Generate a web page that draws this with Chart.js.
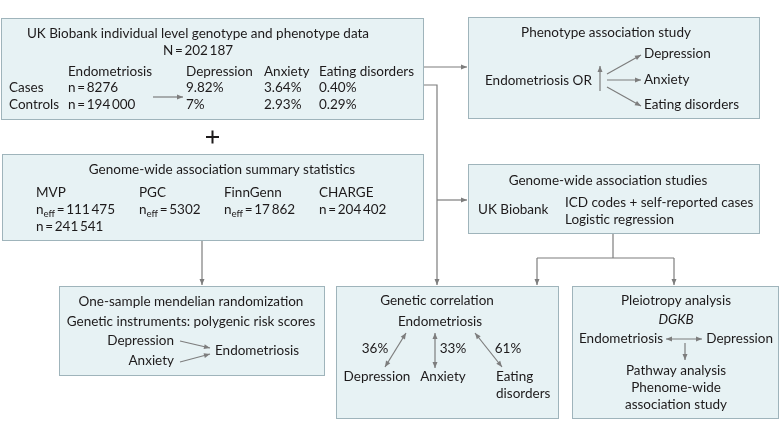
<!DOCTYPE html>
<html>
<head>
<meta charset="utf-8">
<script src="https://cdn.jsdelivr.net/npm/chart.js@4"></script>
<style>
  html, body { margin: 0; padding: 0; background: #fff; }
  #wrap { width: 780px; height: 432px; }
</style>
</head>
<body>
<div id="wrap"><canvas id="flow" width="780" height="432"></canvas></div>
<script>
// Study data
const cohortLabels = ['Cases', 'Controls'];
const endoCounts = [8276, 194000];
const totalN = 202187;
const outcomes = ['Depression', 'Anxiety', 'Eating disorders'];
const casePct = [9.82, 3.64, 0.40];
const controlPct = [7, 2.93, 0.29];
const gwasSources = ['MVP', 'PGC', 'FinnGenn', 'CHARGE'];
const gwasNeff = [111475, 5302, 17862, null];
const gwasN = [241541, null, null, 204402];
const geneticCorr = [36, 33, 61];

const FONT = 'Lato, "Open Sans", sans-serif';
const SIZE = 13.5;
const INK = '#1d1a1b';
const GREY = '#7d7d7d';
const FILL = '#e7f2f4';
const EDGE = '#9fb4bb';

const fmtN = n => n >= 10000 ? n.toLocaleString('en-US').replace(/,/g, '\u2009') : String(n);
const fmtPct = p => (Number.isInteger(p) ? String(p) : p.toFixed(2)) + '%';
const eq = '\u2009=\u2009';

const flowPlugin = {
    id: 'flow',
    afterDraw(chart) {
        const ctx = chart.ctx;
        const X = v => chart.scales.x.getPixelForValue(v);
        const Y = v => chart.scales.y.getPixelForValue(v);

        const box = (x1, y1, x2, y2) => {
            ctx.save();
            ctx.fillStyle = FILL;
            ctx.strokeStyle = EDGE;
            ctx.lineWidth = 1;
            ctx.fillRect(X(x1), Y(y1), X(x2) - X(x1), Y(y2) - Y(y1));
            ctx.strokeRect(X(x1) + 0.5, Y(y1) + 0.5, X(x2) - X(x1), Y(y2) - Y(y1));
            ctx.restore();
        };
        const text = (s, x, y, align = 'left', style = '') => {
            ctx.save();
            ctx.fillStyle = INK;
            ctx.font = style + ' ' + SIZE + 'px ' + FONT;
            ctx.textAlign = align;
            ctx.textBaseline = 'middle';
            ctx.fillText(s, X(x), Y(y));
            ctx.restore();
        };
        // n_eff = value, with subscript
        const neff = (val, x, y) => {
            ctx.save();
            ctx.fillStyle = INK;
            ctx.textBaseline = 'middle';
            ctx.font = SIZE + 'px ' + FONT;
            ctx.fillText('n', X(x), Y(y));
            let px = X(x) + ctx.measureText('n').width;
            ctx.font = (SIZE * 0.72) + 'px ' + FONT;
            ctx.fillText('eff', px, Y(y) + 4);
            px += ctx.measureText('eff').width;
            ctx.font = SIZE + 'px ' + FONT;
            ctx.fillText(eq + fmtN(val), px, Y(y));
            ctx.restore();
        };
        const head = (x, y, ang) => {
            ctx.beginPath();
            ctx.moveTo(x, y);
            ctx.lineTo(x - 6 * Math.cos(ang) + 2.5 * Math.sin(ang), y - 6 * Math.sin(ang) - 2.5 * Math.cos(ang));
            ctx.lineTo(x - 6 * Math.cos(ang) - 2.5 * Math.sin(ang), y - 6 * Math.sin(ang) + 2.5 * Math.cos(ang));
            ctx.closePath();
            ctx.fill();
        };
        const path = (pts, arrowEnd = true, arrowStart = false) => {
            ctx.save();
            ctx.strokeStyle = GREY;
            ctx.fillStyle = GREY;
            ctx.lineWidth = 1.2;
            ctx.beginPath();
            pts.forEach((p, i) => i ? ctx.lineTo(X(p[0]), Y(p[1])) : ctx.moveTo(X(p[0]), Y(p[1])));
            ctx.stroke();
            if (arrowEnd) {
                const a = pts[pts.length - 2], b = pts[pts.length - 1];
                head(X(b[0]), Y(b[1]), Math.atan2(Y(b[1]) - Y(a[1]), X(b[0]) - X(a[0])));
            }
            if (arrowStart) {
                const a = pts[1], b = pts[0];
                head(X(b[0]), Y(b[1]), Math.atan2(Y(b[1]) - Y(a[1]), X(b[0]) - X(a[0])));
            }
            ctx.restore();
        };

        // connectors
        path([[423, 67], [467, 67]]);
        path([[423, 85], [437, 85], [437, 285]]);
        path([[437, 200], [467, 200]]);
        path([[202, 240], [202, 285]]);
        path([[613, 233], [613, 258]], false);
        path([[537, 258], [674, 258]], false);
        path([[537, 258], [537, 285]]);
        path([[674, 258], [674, 285]]);

        // UK Biobank box
        box(1, 18, 423, 119);
        text('UK Biobank individual level genotype and phenotype data', 198, 34, 'center');
        text('N' + eq + fmtN(totalN), 198, 51, 'center');
        text('Endometriosis', 68, 72);
        const colX = [186, 264, 319];
        outcomes.forEach((o, i) => text(o, colX[i], 72));
        cohortLabels.forEach((c, r) => {
            const y = r ? 105 : 88;
            text(c, 9, y);
            text('n' + eq + fmtN(endoCounts[r]), 68, y);
            const vals = r ? controlPct : casePct;
            vals.forEach((v, i) => text(fmtPct(v), colX[i], y));
        });
        path([[153, 97], [183, 97]]);

        // plus sign
        ctx.save();
        ctx.fillStyle = INK;
        ctx.fillRect(X(206), Y(136), 13, 2);
        ctx.fillRect(X(211.5), Y(130.5), 2, 13);
        ctx.restore();

        // Phenotype association study
        box(468, 17, 759, 118);
        text('Phenotype association study', 606, 33, 'center');
        text('Endometriosis OR', 485, 81);
        path([[600, 91], [600, 66]]);
        path([[607, 74], [641, 55]]);
        path([[607, 80], [641, 80]]);
        path([[607, 87], [641, 106]]);
        const outY = [54, 80, 105];
        outcomes.forEach((o, i) => text(o, 644, outY[i]));

        // GWAS summary statistics
        box(2, 154, 423, 240);
        text('Genome-wide association summary statistics', 222, 170, 'center');
        const srcX = [36, 139, 224, 319];
        gwasSources.forEach((s, i) => {
            text(s, srcX[i], 193);
            let y = 210;
            if (gwasNeff[i] !== null) { neff(gwasNeff[i], srcX[i], y); y += 17; }
            if (gwasN[i] !== null) text('n' + eq + fmtN(gwasN[i]), srcX[i], y);
        });

        // GWAS studies
        box(468, 164, 759, 233);
        text('Genome-wide association studies', 608, 181, 'center');
        text('UK Biobank', 478, 210);
        text('ICD codes + self-reported cases', 565, 203);
        text('Logistic regression', 565, 220);

        // One-sample MR
        box(59, 286, 324, 375);
        text('One-sample mendelian randomization', 191, 302, 'center');
        text('Genetic instruments: polygenic risk scores', 191, 322, 'center');
        text(outcomes[0], 174, 341, 'right');
        text(outcomes[1], 174, 361, 'right');
        text('Endometriosis', 215, 351);
        path([[180, 341], [210, 348]]);
        path([[180, 362], [210, 354]]);

        // Genetic correlation
        box(336, 286, 558, 418);
        text('Genetic correlation', 437, 301, 'center');
        text('Endometriosis', 440, 322, 'center');
        const pctX = [375, 453, 508];
        geneticCorr.forEach((g, i) => text(g + '%', pctX[i], 349, 'center'));
        text(outcomes[0], 377, 377, 'center');
        text(outcomes[1], 443, 377, 'center');
        text('Eating', 496, 377);
        text('disorders', 496, 394);
        path([[406, 333], [385, 367]], true, true);
        path([[435, 333], [435, 368]], true, true);
        path([[475, 333], [502, 367]], true, true);

        // Pleiotropy
        box(572, 286, 778, 418);
        text('Pleiotropy analysis', 676, 301, 'center');
        text('DGKB', 676, 320, 'center', 'italic');
        text('Endometriosis', 579, 339);
        text(outcomes[0], 773, 339, 'right');
        path([[666, 339], [702, 339]], true, true);
        path([[685, 343], [685, 360]]);
        text('Pathway analysis', 676, 371, 'center');
        text('Phenome-wide', 676, 388, 'center');
        text('association study', 676, 405, 'center');
    }
};

new Chart(document.getElementById('flow'), {
    type: 'scatter',
    data: { datasets: [{ data: [], pointRadius: 0 }] },
    options: {
        responsive: false,
        animation: false,
        events: [],
        layout: { padding: 0 },
        plugins: { legend: { display: false }, tooltip: { enabled: false } },
        scales: {
            x: { type: 'linear', min: 0, max: 780, display: false },
            y: { type: 'linear', min: 0, max: 432, reverse: true, display: false }
        }
    },
    plugins: [flowPlugin]
});
</script>
</body>
</html>
